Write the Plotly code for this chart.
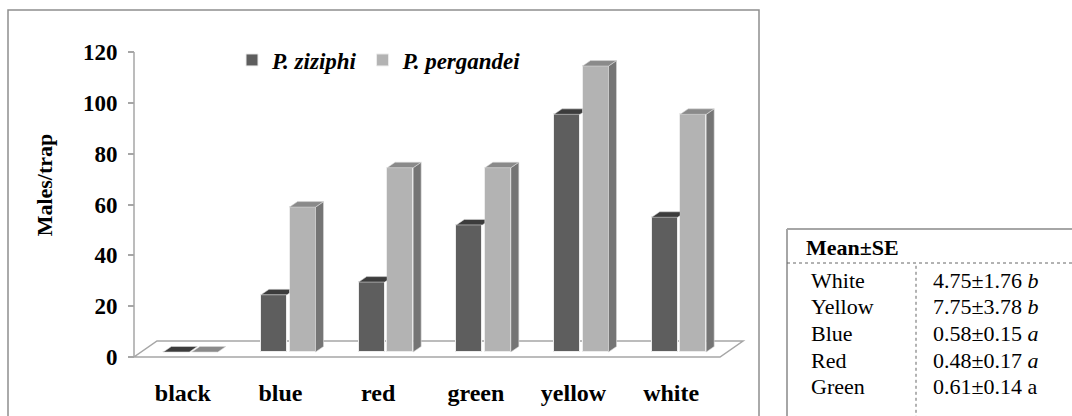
import plotly.graph_objects as go

# ---------------- data ----------------
categories = ["black", "blue", "red", "green", "yellow", "white"]
ziziphi = [0, 22.5, 27.5, 50, 93.5, 53]
pergandei = [0, 57, 72.5, 72.5, 112.5, 93.5]
y_ticks = [0, 20, 40, 60, 80, 100, 120]
series_names = ["P. ziziphi", "P. pergandei"]

table_header = "Mean±SE"
table_labels = ["White", "Yellow", "Blue", "Red", "Green"]
table_means = ["4.75±1.76", "7.75±3.78", "0.58±0.15", "0.48±0.17", "0.61±0.14"]
table_letters = ["b", "b", "a", "a", "a"]
table_letter_italic = [True, True, True, True, False]

# ---------------- geometry / style ----------------
W, H = 1072, 416
X0_PX, UX = 134, 97.67      # pixel of x=0, pixels per category
Y0_PX, UY = 357, 2.5417     # pixel of y=0, pixels per unit


def px_x(p):
    return p / W


def px_y(p):
    return 1 - p / H


xdom_px = (100, 770)
ydom_px = (359, 11)
xrange_ = [(xdom_px[0] - X0_PX) / UX, (xdom_px[1] - X0_PX) / UX]
yrange_ = [(Y0_PX - ydom_px[0]) / UY, (Y0_PX - ydom_px[1]) / UY]

BAR_W = 26 / UX
OFF = [-6.5 / UX, 22 / UX]
BASE = 5 / UY
DX, DY = 8 / UX, 5.5 / UY
FDX, FDY = 23 / UX, 16 / UY

Z_FRONT, Z_TOP, Z_SIDE = "#5e5e5e", "#3c3c3c", "#4a4a4a"
P_FRONT, P_TOP, P_SIDE = "#b3b3b3", "#8a8a8a", "#757575"
EDGE = "#ececec"
FONT = "Liberation Serif, Times New Roman, serif"

n = len(categories)
cz = [i + 0.5 + OFF[0] for i in range(n)]
cp = [i + 0.5 + OFF[1] for i in range(n)]

fig = go.Figure()

# front faces as real bars
fig.add_trace(go.Bar(x=cz, y=ziziphi, base=BASE, width=BAR_W, name=series_names[0],
                     marker=dict(color=Z_FRONT, line=dict(color=EDGE, width=1))))
fig.add_trace(go.Bar(x=cp, y=pergandei, base=BASE, width=BAR_W, name=series_names[1],
                     marker=dict(color=P_FRONT, line=dict(color=EDGE, width=1))))


def add_poly(polys, color):
    xs, ys = [], []
    for pts in polys:
        for (a, b) in pts:
            xs.append(a)
            ys.append(b)
        xs.append(pts[0][0])
        ys.append(pts[0][1])
        xs.append(None)
        ys.append(None)
    fig.add_trace(go.Scatter(x=xs, y=ys, mode="lines", fill="toself", fillcolor=color,
                             line=dict(color="#d8d8d8", width=0.6), showlegend=False,
                             hoverinfo="skip"))


# P. ziziphi top faces (clipped where the taller neighbour hides them)
z_tops, z_sides = [], []
for i in range(n):
    t = BASE + ziziphi[i]
    xl, xr = cz[i] - BAR_W / 2, cz[i] + BAR_W / 2
    xp = cp[i] - BAR_W / 2
    if pergandei[i] > ziziphi[i] + DY:
        z_tops.append([(xl, t), (xr, t), (xp, t + DY * (xp - xr) / DX), (xp, t + DY), (xl + DX, t + DY)])
    else:
        z_tops.append([(xl, t), (xr, t), (xr + DX, t + DY), (xl + DX, t + DY)])
        if ziziphi[i] > 0:
            z_sides.append([(xr, BASE), (xr + DX, BASE + DY), (xr + DX, t + DY), (xr, t)])
if z_sides:
    add_poly(z_sides, Z_SIDE)
add_poly(z_tops, Z_TOP)

# P. pergandei side and top faces
p_sides, p_tops = [], []
for i in range(n):
    t = BASE + pergandei[i]
    xl, xr = cp[i] - BAR_W / 2, cp[i] + BAR_W / 2
    if pergandei[i] > 0:
        p_sides.append([(xr, BASE), (xr + DX, BASE + DY), (xr + DX, t + DY), (xr, t)])
    p_tops.append([(xl, t), (xr, t), (xr + DX, t + DY), (xl + DX, t + DY)])
add_poly(p_sides, P_SIDE)
add_poly(p_tops, P_TOP)

# ---------------- shapes ----------------
shapes = []
# floor
floor_path = (f"M 0,0 L {n},0 L {n + FDX},{FDY} L {FDX},{FDY} Z")
shapes.append(dict(type="path", xref="x", yref="y", path=floor_path,
                   line=dict(color="#a6a6a6", width=1.5), layer="below"))
# value axis line
shapes.append(dict(type="line", xref="x", yref="y", x0=0, x1=0, y0=0, y1=y_ticks[-1],
                   line=dict(color="#a6a6a6", width=1.5), layer="below"))
# chart border (bottom edge lies below the visible area)
shapes.append(dict(type="rect", xref="paper", yref="paper",
                   x0=px_x(8), x1=px_x(759), y0=-0.05, y1=px_y(10),
                   line=dict(color="#8f8f8f", width=1.5)))
# table borders
shapes.append(dict(type="line", xref="paper", yref="paper",
                   x0=px_x(787), x1=px_x(787), y0=-0.05, y1=px_y(229),
                   line=dict(color="#a6a6a6", width=2)))
shapes.append(dict(type="line", xref="paper", yref="paper",
                   x0=px_x(787), x1=1.0, y0=px_y(229), y1=px_y(229),
                   line=dict(color="#a6a6a6", width=2)))
shapes.append(dict(type="line", xref="paper", yref="paper",
                   x0=px_x(787), x1=1.0, y0=px_y(263), y1=px_y(263),
                   line=dict(color="#666666", width=1, dash="dot")))
shapes.append(dict(type="line", xref="paper", yref="paper",
                   x0=px_x(916), x1=px_x(916), y0=-0.05, y1=px_y(263),
                   line=dict(color="#666666", width=1, dash="dot")))

# ---------------- table text ----------------
TFS = 22
annotations = []
annotations.append(dict(text="<b>" + table_header + "</b>", xref="paper", yref="paper",
                        x=px_x(804), y=px_y(247), xanchor="left", yanchor="middle",
                        showarrow=False, font=dict(family=FONT, size=TFS, color="black")))
row_y0, row_dy = 280, 26.67
for k, lab in enumerate(table_labels):
    yy = px_y(row_y0 + k * row_dy)
    annotations.append(dict(text=lab, xref="paper", yref="paper", x=px_x(809), y=yy,
                            xanchor="left", yanchor="middle", showarrow=False,
                            font=dict(family=FONT, size=TFS, color="black")))
    letter = f"<i>{table_letters[k]}</i>" if table_letter_italic[k] else table_letters[k]
    annotations.append(dict(text=f"{table_means[k]} {letter}", xref="paper", yref="paper",
                            x=px_x(931), y=yy, xanchor="left", yanchor="middle",
                            showarrow=False, font=dict(family=FONT, size=TFS, color="black")))

fig.update_layout(
    width=W, height=H, margin=dict(l=0, r=0, t=0, b=0, autoexpand=False),
    paper_bgcolor="white", plot_bgcolor="rgba(0,0,0,0)",
    barmode="overlay", bargap=0, hovermode=False,
    shapes=shapes, annotations=annotations,
    showlegend=True,
    legend=dict(orientation="h", x=px_x(232), y=px_y(60), xanchor="left", yanchor="middle",
                bgcolor="rgba(0,0,0,0)", traceorder="normal",
                font=dict(family=FONT, size=23, color="black", weight="bold", style="italic")),
    xaxis=dict(domain=[px_x(xdom_px[0]), px_x(xdom_px[1])], range=xrange_,
               anchor="free", position=px_y(Y0_PX), automargin=False,
               tickmode="array", tickvals=[i + 0.5 for i in range(n)], ticktext=categories,
               ticks="", showline=False, showgrid=False, zeroline=False,
               ticklabelstandoff=19,
               tickfont=dict(family=FONT, size=24, color="black", weight="bold")),
    yaxis=dict(domain=[px_y(ydom_px[0]), px_y(ydom_px[1])], range=yrange_,
               anchor="free", position=px_x(X0_PX), automargin=False,
               tickmode="array", tickvals=y_ticks,
               ticks="outside", ticklen=6, tickwidth=1.5, tickcolor="#a6a6a6",
               ticklabelstandoff=6,
               showline=False, showgrid=False, zeroline=False,
               tickfont=dict(family=FONT, size=23, color="black", weight="bold"),
               title=dict(text="Males/trap", standoff=23,
                          font=dict(family=FONT, size=22, color="black", weight="bold"))),
)

fig.write_html(
    "out.html",
    config={"displayModeBar": False},
    post_script=("document.documentElement.style.margin='0';"
                 "document.body.style.margin='0';"
                 "document.body.style.padding='0';"
                 "document.documentElement.style.overflow='hidden';"
                 "document.body.style.overflow='hidden';"),
)
